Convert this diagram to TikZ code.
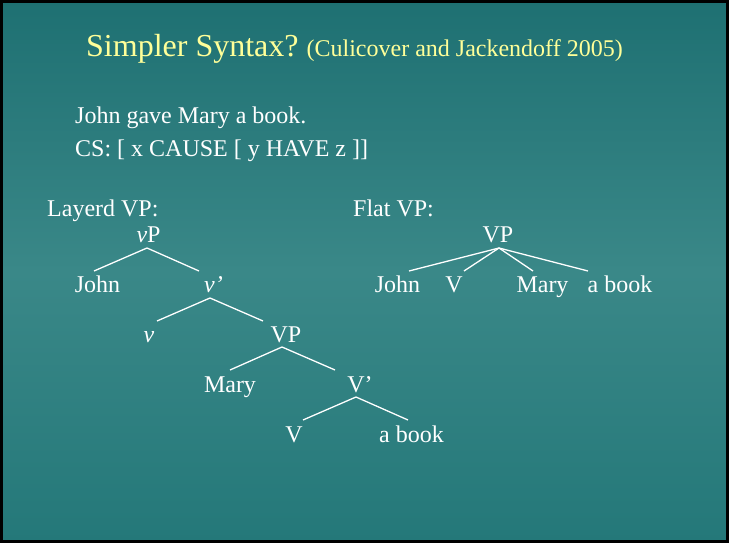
\documentclass[tikz,border=0pt]{standalone}
\usepackage{fontspec}
\setmainfont{Liberation Serif}
\definecolor{bgtop}{RGB}{30,112,114}
\definecolor{bgmid}{RGB}{58,136,136}
\definecolor{bgbot}{RGB}{36,120,121}
\definecolor{titleyellow}{RGB}{255,255,153}
\begin{document}
\begin{tikzpicture}[x=1pt,y=-1pt,
  lbl/.style={inner sep=0pt,anchor=base,text=white,font=\fontsize{24}{28}\selectfont},
  lblw/.style={lbl,anchor=base west},
  branch/.style={draw=white,line width=1.3pt}]
\useasboundingbox (0,0) rectangle (729,543);
\shade[top color=bgtop,bottom color=bgbot,middle color=bgmid] (0,0) rectangle (729,543);
\draw[black,line width=3pt] (1.5,1.5) rectangle (727.5,541.5);
% title
\node[inner sep=0pt,anchor=base west,text=titleyellow] (title) at (86,57)
  {\fontsize{32}{36}\selectfont Simpler Syntax?\ \fontsize{24}{28}\selectfont(Culicover and Jackendoff 2005)};
% sentence
\node[lblw] (sent) at (75,124) {John gave Mary a book.};
\node[lblw] (cs) at (75,157) {CS: [ x CAUSE [ y HAVE z ]]};
\node[lblw] (layered) at (47,216) {Layerd VP:};
\node[lblw] (flat) at (353,216) {Flat VP:};
% layered tree
\node[lbl] (vP) at (148.5,242) {\textit{v}P};
\node[lbl] (johnA) at (97.5,292) {John};
\node[lbl] (vbar) at (213.5,292) {\textit{v’}};
\node[lbl] (vsmall) at (149,342) {\textit{v}};
\node[lbl] (VPa) at (286,342) {VP};
\node[lbl] (maryA) at (230,392) {Mary};
\node[lbl] (Vbar) at (360,392) {V’};
\node[lbl] (VA) at (294,442) {V};
\node[lbl] (bookA) at (411.5,442) {a book};
\draw[branch] ([shift={(-1.5,6)}]vP.base) -- ([shift={(-3.5,-21)}]johnA.base);
\draw[branch] ([shift={(-1.5,6)}]vP.base) -- ([shift={(-14.5,-21)}]vbar.base);
\draw[branch] ([shift={(-3.5,6)}]vbar.base) -- ([shift={(8,-21)}]vsmall.base);
\draw[branch] ([shift={(-3.5,6)}]vbar.base) -- ([shift={(-23,-21)}]VPa.base);
\draw[branch] ([shift={(-4,5)}]VPa.base) -- ([shift={(0,-22)}]maryA.base);
\draw[branch] ([shift={(-4,5)}]VPa.base) -- ([shift={(-25,-22)}]Vbar.base);
\draw[branch] ([shift={(-4,5)}]Vbar.base) -- ([shift={(9,-22)}]VA.base);
\draw[branch] ([shift={(-4,5)}]Vbar.base) -- ([shift={(-3.5,-22)}]bookA.base);
% flat tree
\node[lbl] (VPb) at (498,242) {VP};
\node[lbl] (johnB) at (397.5,292) {John};
\node[lbl] (VB) at (454,292) {V};
\node[lbl] (maryB) at (542.5,292) {Mary};
\node[lbl] (bookB) at (620,292) {a book};
\draw[branch] ([shift={(1,6)}]VPb.base) -- ([shift={(11.5,-21)}]johnB.base);
\draw[branch] ([shift={(1,6)}]VPb.base) -- ([shift={(10,-21)}]VB.base);
\draw[branch] ([shift={(1,6)}]VPb.base) -- ([shift={(-9.5,-21)}]maryB.base);
\draw[branch] ([shift={(1,6)}]VPb.base) -- ([shift={(-32,-21)}]bookB.base);
\end{tikzpicture}
\end{document}
